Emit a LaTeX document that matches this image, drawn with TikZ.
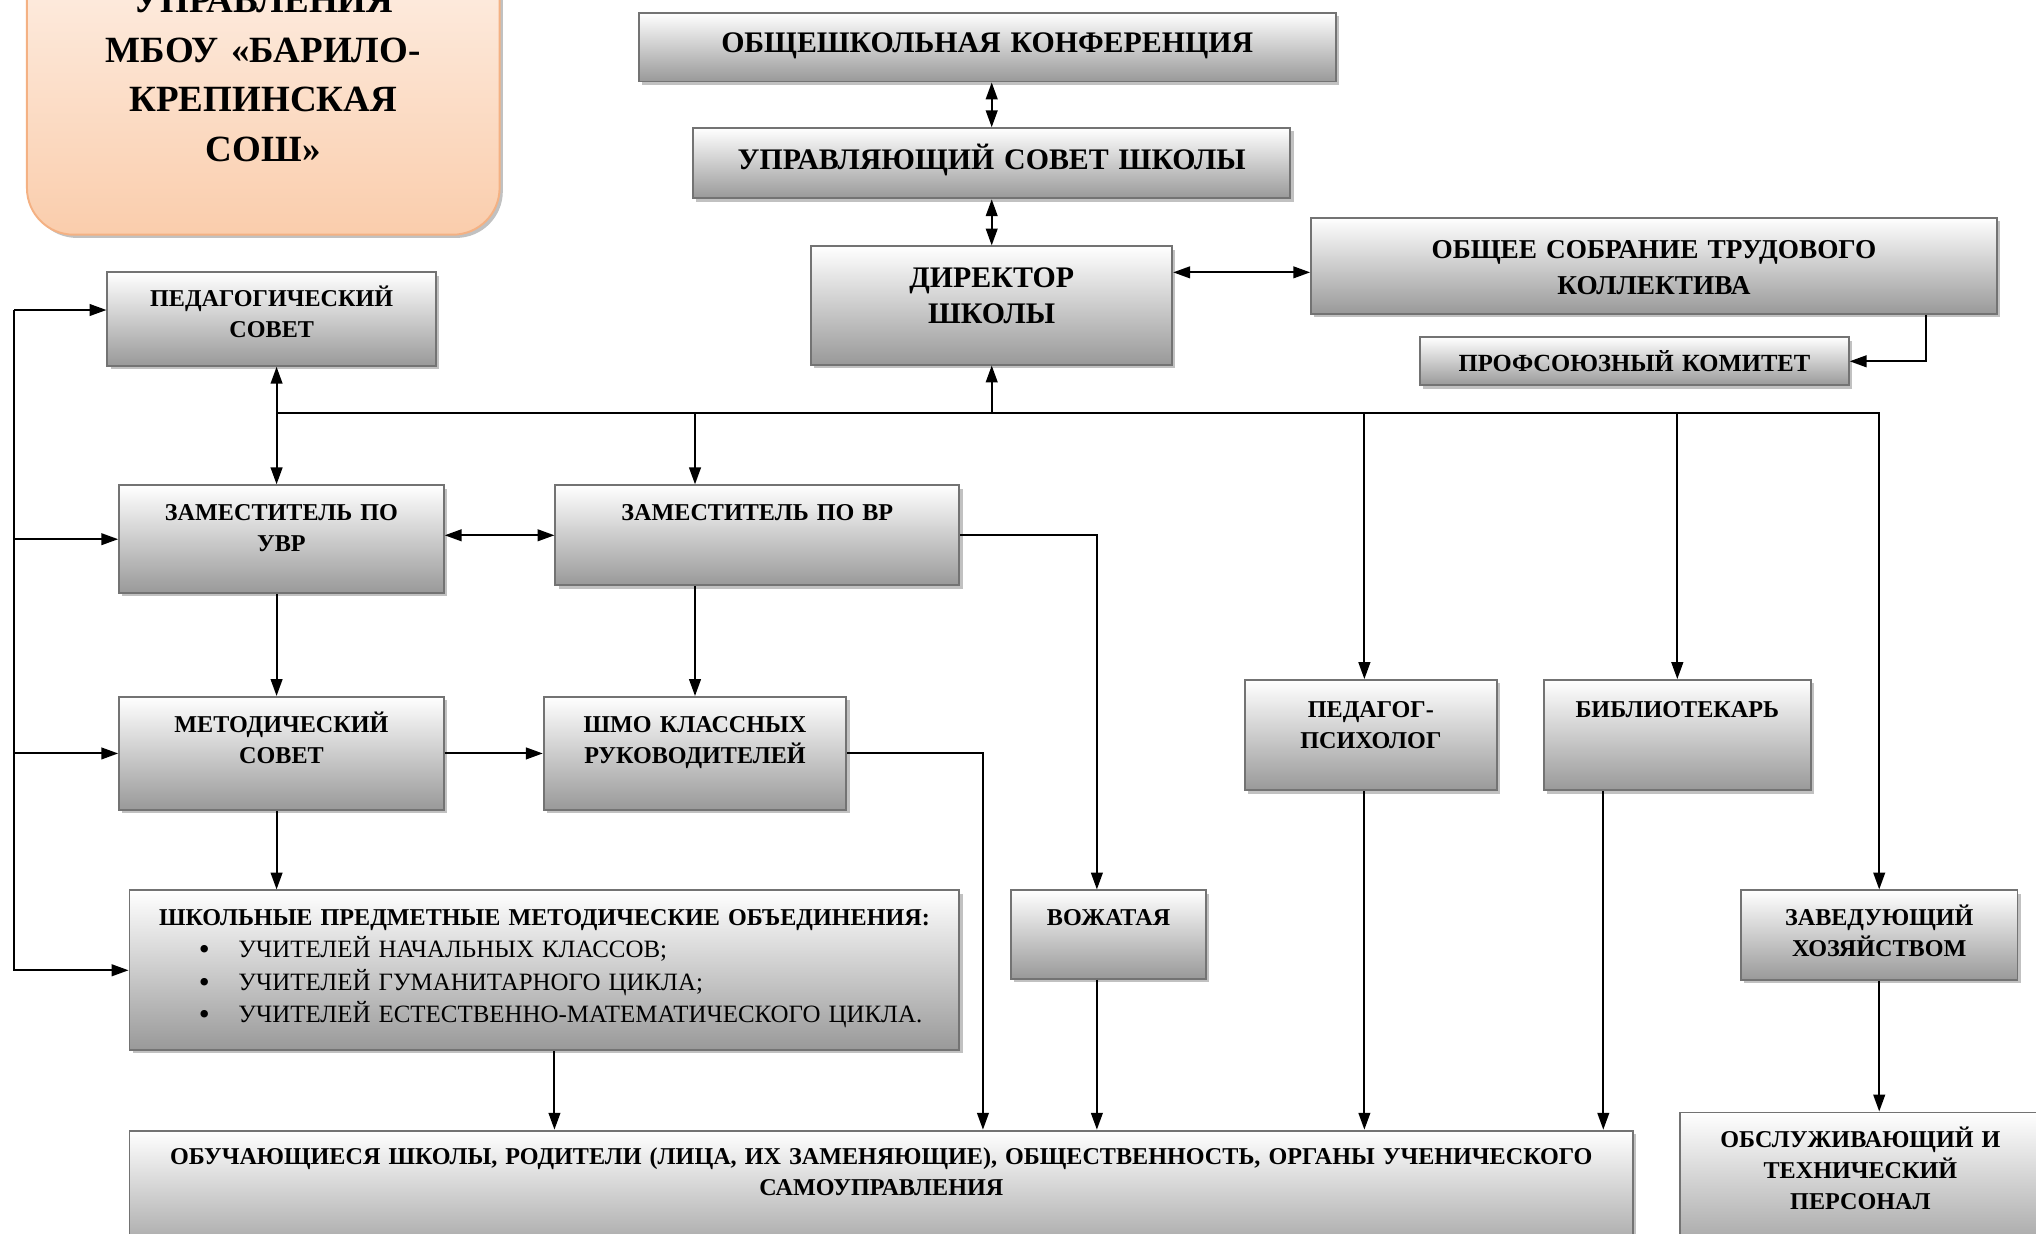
\documentclass[tikz,border=0pt]{standalone}
\usepackage{fontspec}
\setmainfont{Liberation Serif}
\usetikzlibrary{arrows.meta,shadows}

\newcommand{\dotitem}{\hspace{44pt}\raisebox{-1.5pt}{\fontsize{24}{24}\selectfont\textbullet}\hspace{22pt}}

\begin{document}
\begin{tikzpicture}[x=1pt,y=-1pt,
  box/.style={draw=black!55,line width=1.5pt,top color=white,bottom color=black!40,
    drop shadow={shadow xshift=2.5pt,shadow yshift=-2.5pt,fill=black!35,opacity=.7},
    anchor=north west,inner sep=0pt,align=center},
  big/.style={font=\bfseries\fontsize{23}{28}\selectfont},
  small/.style={font=\bfseries\fontsize{18.6}{24}\selectfont},
  link/.style={line width=1.5pt},
  arr/.style={link,-{Triangle[length=13pt,width=9pt]}},
  dbl/.style={link,{Triangle[length=13pt,width=9pt]}-{Triangle[length=13pt,width=9pt]}}]
\useasboundingbox (0,0) rectangle (1568,950);

% title
\node[box,draw={rgb,255:red,244;green,177;blue,131},
  top color={rgb,255:red,254;green,244;blue,237},
  bottom color={rgb,255:red,250;green,205;blue,172},
  rounded corners=36pt,font=\bfseries\fontsize{28.5}{38.5}\selectfont,
  minimum width=364pt,text width=350pt,text height=78.5pt,text depth=171.5pt]
  (title) at (20,-70) {УПРАВЛЕНИЯ\\МБОУ «БАРИЛО-\\КРЕПИНСКАЯ\\СОШ»};

% top
\node[box,big,minimum width=537pt,text width=525pt,text height=30.5pt,text depth=22.5pt]
  (conf) at (491,9) {ОБЩЕШКОЛЬНАЯ КОНФЕРЕНЦИЯ};
\node[box,big,minimum width=460pt,text width=450pt,text height=31.5pt,text depth=22.5pt]
  (council) at (533,98) {УПРАВЛЯЮЩИЙ СОВЕТ ШКОЛЫ};
\node[box,big,minimum width=278pt,text width=266pt,text height=31.5pt,text depth=59.5pt]
  (dir) at (624,189) {ДИРЕКТОР\\ШКОЛЫ};
\node[box,font=\bfseries\fontsize{21}{28}\selectfont,minimum width=528pt,text width=516pt,
  text height=31pt,text depth=43pt]
  (sobr) at (1009,167) {ОБЩЕЕ СОБРАНИЕ ТРУДОВОГО\\КОЛЛЕКТИВА};
\node[box,font=\bfseries\fontsize{19}{24}\selectfont,minimum width=330pt,text width=320pt,
  text height=26.3pt,text depth=10.7pt]
  (prof) at (1093,259) {ПРОФСОЮЗНЫЙ КОМИТЕТ};

% middle
\node[box,small,minimum width=253pt,text width=243pt,text height=26pt,text depth=46pt]
  (ped) at (82,209) {ПЕДАГОГИЧЕСКИЙ\\СОВЕТ};
\node[box,small,minimum width=250pt,text width=240pt,text height=27pt,text depth=56pt]
  (uvr) at (91,373) {ЗАМЕСТИТЕЛЬ ПО\\УВР};
\node[box,small,minimum width=311pt,text width=300pt,text height=27pt,text depth=50pt]
  (vr) at (427,373) {ЗАМЕСТИТЕЛЬ ПО ВР};
\node[box,small,minimum width=250pt,text width=240pt,text height=27pt,text depth=60pt]
  (met) at (91,536) {МЕТОДИЧЕСКИЙ\\СОВЕТ};
\node[box,small,minimum width=233pt,text width=225pt,text height=27pt,text depth=60pt]
  (shmo) at (418,536) {ШМО КЛАССНЫХ\\РУКОВОДИТЕЛЕЙ};
\node[box,small,minimum width=194pt,text width=184pt,text height=29pt,text depth=56pt]
  (psy) at (958,523) {ПЕДАГОГ-\\ПСИХОЛОГ};
\node[box,small,minimum width=206pt,text width=196pt,text height=29pt,text depth=56pt]
  (bib) at (1188,523) {БИБЛИОТЕКАРЬ};

% lower
\node[box,font=\bfseries\fontsize{18.6}{25}\selectfont,minimum width=639pt,text width=620pt,
  text height=27pt,text depth=96pt]
  (shpmo) at (99,685) {ШКОЛЬНЫЕ ПРЕДМЕТНЫЕ МЕТОДИЧЕСКИЕ ОБЪЕДИНЕНИЯ:\\
  \makebox[620pt][l]{\mdseries\fontsize{19.2}{25}\selectfont\dotitem УЧИТЕЛЕЙ НАЧАЛЬНЫХ КЛАССОВ;}\\
  \makebox[620pt][l]{\mdseries\fontsize{19.2}{25}\selectfont\dotitem УЧИТЕЛЕЙ ГУМАНИТАРНОГО ЦИКЛА;}\\
  \makebox[620pt][l]{\mdseries\fontsize{19.2}{25}\selectfont\dotitem УЧИТЕЛЕЙ ЕСТЕСТВЕННО-МАТЕМАТИЧЕСКОГО ЦИКЛА.}};
\node[box,small,minimum width=150pt,text width=140pt,text height=27pt,text depth=41pt]
  (vozh) at (778,685) {ВОЖАТАЯ};
\node[box,small,minimum width=213pt,text width=203pt,text height=27pt,text depth=42pt]
  (zav) at (1340,685) {ЗАВЕДУЮЩИЙ\\ХОЗЯЙСТВОМ};
\node[box,small,minimum width=1158pt,text width=1140pt,text height=26pt,text depth=79pt]
  (obuch) at (99,870) {ОБУЧАЮЩИЕСЯ ШКОЛЫ, РОДИТЕЛИ (ЛИЦА, ИХ ЗАМЕНЯЮЩИЕ), ОБЩЕСТВЕННОСТЬ, ОРГАНЫ УЧЕНИЧЕСКОГО\\САМОУПРАВЛЕНИЯ};
\node[box,small,minimum width=278pt,text width=268pt,text height=27pt,text depth=92pt]
  (obsl) at (1293,856) {ОБСЛУЖИВАЮЩИЙ И\\ТЕХНИЧЕСКИЙ\\ПЕРСОНАЛ};

% connectors
\coordinate (busL) at (213,318);
\coordinate (left) at (11,0);
\coordinate (c1) at (757,0);
\coordinate (c2) at ([xshift=-9pt]vozh.north);
\coordinate (c3) at ([xshift=-57pt]bib.south);
\coordinate (c4) at ([yshift=7pt]ped.west);
\coordinate (c5) at ([yshift=-5pt]sobr.west);
\coordinate (c6) at ([xshift=-5pt]psy.north);

\draw[dbl] (council.north) -- (council.north |- conf.south);
\draw[dbl] (dir.north) -- (dir.north |- council.south);
\draw[dbl] (dir.east |- c5) -- (c5);
\draw[arr] ([xshift=-55pt]sobr.south east) |- (prof.east);

\draw[arr] (busL) -| (zav.north);
\draw[arr] (busL) -- (busL |- ped.south);
\draw[arr] (busL) -- (busL |- uvr.north);
\draw[arr] (dir.south |- busL) -- (dir.south);
\draw[arr] (shmo.north |- busL) -- (shmo.north |- vr.north);
\draw[arr] (c6 |- busL) -- (c6);
\draw[arr] (bib.north |- busL) -- (bib.north);

\draw[dbl] (uvr.east |- vr.west) -- (vr.west);
\draw[arr] (busL |- uvr.south) -- (busL |- met.north);
\draw[arr] (shmo.north |- vr.south) -- (shmo.north);
\draw[arr] (vr.east) -| (c2);
\draw[arr] (met.east) -- (shmo.west);
\draw[arr] (busL |- met.south) -- (busL |- shpmo.north);

\draw[arr] (shmo.east) -| (c1 |- obuch.north);
\draw[arr] (vr.west |- shpmo.south) -- (vr.west |- obuch.north);
\draw[arr] (c2 |- vozh.south) -- (c2 |- obuch.north);
\draw[arr] (c6 |- psy.south) -- (c6 |- obuch.north);
\draw[arr] (c3) -- (c3 |- obuch.north);
\draw[arr] (zav.south) -- (zav.south |- obsl.north);

\draw[arr] (left |- c4) -- (c4);
\draw[arr] (left |- c4) -- (left |- shpmo.west) -- (shpmo.west);
\draw[arr] (left |- uvr.west) -- (uvr.west);
\draw[arr] (left |- met.west) -- (met.west);
\end{tikzpicture}
\end{document}
